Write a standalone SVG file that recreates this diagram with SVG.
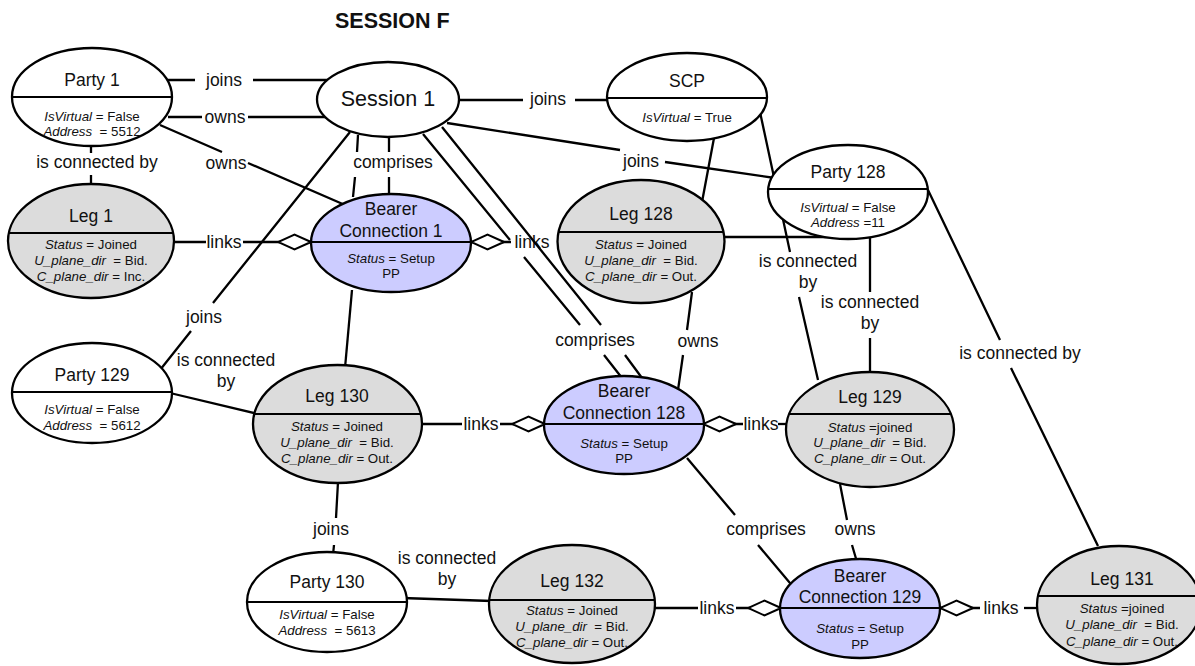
<svg xmlns="http://www.w3.org/2000/svg" width="1195" height="666" viewBox="0 0 1195 666">
<style>
  text{font-family:"Liberation Sans",Arial,Helvetica,sans-serif;fill:#111}
  .ln{fill:none;stroke:#000;stroke-width:2.3}
  .lnk{fill:none;stroke:#000;stroke-width:2.3;marker-end:url(#agg)}
  .shape{stroke:#000;stroke-width:2.3}
  .div{stroke:#000;stroke-width:2.1}
  .white{fill:#fff}
  .leg{fill:#dcdcdc}
  .bearer{fill:#ccccff}
  .lbl{font-size:17.5px;text-anchor:middle}
  .ttl{font-size:17.5px;text-anchor:middle}
  .big{font-size:21.5px;text-anchor:middle}
  .att{font-size:13.3px;text-anchor:middle}
  .i{font-style:italic}
  .head{font-size:21.5px;font-weight:bold}
</style>
<defs>
  <!-- open diamond used for the "links" aggregation ends -->
  <marker id="agg" markerUnits="userSpaceOnUse" viewBox="0 -9 34 18" refX="33.5" refY="0" markerWidth="34" markerHeight="18" orient="auto">
    <path d="M0.5,0 L17,-7.5 L33.5,0 L17,7.5 Z" fill="#fff" stroke="#000" stroke-width="2"/>
  </marker>
</defs>

<text class="head" x="335" y="28">SESSION F</text>

<g id="connectors">
  <g id="c-party1-session1-joins"><path class="ln" d="M168,80 H195 M253,80 H330"/><text class="lbl" x="224" y="86">joins</text></g>
  <g id="c-party1-session1-owns"><path class="ln" d="M168,117 H202 M248,117 H330"/><text class="lbl" x="225" y="123">owns</text></g>
  <g id="c-party1-bc1-owns"><path class="ln" d="M160,125 L222,152 M248,163 L345,205"/><text class="lbl" x="226" y="169">owns</text></g>
  <g id="c-party1-leg1"><path class="ln" d="M91,146 V153 M91,175 V186"/><text class="lbl" x="97" y="168">is connected by</text></g>
  <g id="c-leg1-bc1-links"><path class="lnk" d="M172,242 H206 M243,242 H311"/><text class="lbl" x="224" y="248">links</text></g>
  <g id="c-bc1-leg128-links"><path class="lnk" d="M511,242 H471"/><text class="lbl" x="532" y="248">links</text></g>
  <g id="c-session1-scp-joins"><path class="ln" d="M458,100 H523 M575,100 H610"/><text class="lbl" x="548" y="105">joins</text></g>
  <g id="c-session1-party128-joins"><path class="ln" d="M447,123 L620,150 M665,162 L775,178"/><text class="lbl" x="641" y="167">joins</text></g>
  <g id="c-scp-leg128"><path class="ln" d="M714,138 L702,202"/></g>
  <g id="c-scp-leg129"><path class="ln" d="M760,112 L790,252 M799,297 L818,380"/><text class="lbl" x="808" y="267">is connected</text><text class="lbl" x="808" y="288">by</text></g>
  <g id="c-party128-leg129"><path class="ln" d="M722,237 H870 V292 M870,338 V374"/><text class="lbl" x="870" y="308">is connected</text><text class="lbl" x="870" y="329">by</text></g>
  <g id="c-party128-leg131"><path class="ln" d="M928,190 L1000,340 M1011,368 L1098,546"/><text class="lbl" x="1020" y="359">is connected by</text></g>
  <g id="c-session1-bc1-comprises"><path class="ln" d="M358,135 L357,152 M355,177 L353,197 M389,137 V152 M389,177 V195"/><text class="lbl" x="393" y="168">comprises</text></g>
  <g id="c-session1-party129-joins"><path class="ln" d="M350,132 L213,303 M191,331 L160,370"/><text class="lbl" x="204" y="323">joins</text></g>
  <g id="c-session1-bc128-comprises"><path class="ln" d="M423,134 L510,240 M524,257 L580,325 M604,355 L622,378 M442,127 L601,325 M625,355 L642,378"/><text class="lbl" x="595" y="346">comprises</text></g>
  <g id="c-bc1-leg130"><path class="ln" d="M352,290 L345,368"/></g>
  <g id="c-party129-leg130"><path class="ln" d="M170,393 L258,414"/><text class="lbl" x="226" y="366">is connected</text><text class="lbl" x="226" y="387">by</text></g>
  <g id="c-leg130-bc128-links"><path class="lnk" d="M420,424 H462 M500,424 H545"/><text class="lbl" x="481" y="430">links</text></g>
  <g id="c-bc128-leg129-links"><path class="lnk" d="M743,424 H703"/><path class="ln" d="M778,424 H790"/><text class="lbl" x="761" y="430">links</text></g>
  <g id="c-leg128-bc128-owns"><path class="ln" d="M692,292 L687,330 M683,355 L678,390"/><text class="lbl" x="698" y="347">owns</text></g>
  <g id="c-leg130-party130-joins"><path class="ln" d="M338,482 L336,518 M334,545 L333,555"/><text class="lbl" x="331" y="535">joins</text></g>
  <g id="c-party130-leg132"><path class="ln" d="M402,598 L492,601"/><text class="lbl" x="447" y="564">is connected</text><text class="lbl" x="447" y="585">by</text></g>
  <g id="c-leg132-bc129-links"><path class="lnk" d="M655,608 H698 M736,608 H781"/><text class="lbl" x="717" y="614">links</text></g>
  <g id="c-bc129-leg131-links"><path class="lnk" d="M980,608 H940"/><path class="ln" d="M1024,608 H1040"/><text class="lbl" x="1001" y="614">links</text></g>
  <g id="c-bc128-bc129-comprises"><path class="ln" d="M687,458 L735,515 M758,545 L795,589"/><text class="lbl" x="766" y="535">comprises</text></g>
  <g id="c-leg129-bc129-owns"><path class="ln" d="M840,484 L847,520 M852,545 L857,562"/><text class="lbl" x="855" y="535">owns</text></g>
</g>

<g id="party-1">
  <ellipse class="shape white" cx="92" cy="97" rx="80" ry="49"/>
  <line class="div" x1="12" y1="97" x2="172" y2="97"/>
  <text class="ttl" x="92" y="86">Party 1</text>
  <text class="att" x="92" y="121"><tspan class="i">IsVirtual</tspan> = False</text>
  <text class="att" x="92" y="136"><tspan class="i">Address</tspan><tspan dx="3.7"> = 5512</tspan></text>
</g>

<g id="session-1">
  <ellipse class="shape white" cx="388" cy="99.5" rx="71" ry="37.5"/>
  <text class="big" x="388" y="106">Session 1</text>
</g>

<g id="scp">
  <ellipse class="shape white" cx="687" cy="97" rx="80" ry="44"/>
  <line class="div" x1="607" y1="98" x2="767" y2="98"/>
  <text class="ttl" x="687" y="87">SCP</text>
  <text class="att" x="687" y="122"><tspan class="i">IsVirtual</tspan> = True</text>
</g>

<g id="party-128">
  <ellipse class="shape white" cx="848" cy="192" rx="80" ry="47"/>
  <line class="div" x1="768" y1="189" x2="928" y2="189"/>
  <text class="ttl" x="848" y="178">Party 128</text>
  <text class="att" x="848" y="212"><tspan class="i">IsVirtual</tspan> = False</text>
  <text class="att" x="848" y="227"><tspan class="i">Address</tspan> =11</text>
</g>

<g id="leg-1">
  <ellipse class="shape leg" cx="91" cy="241" rx="83" ry="57"/>
  <line class="div" x1="8.8" y1="233" x2="173.2" y2="233"/>
  <text class="ttl" x="91" y="222">Leg 1</text>
  <text class="att" x="91" y="249"><tspan class="i">Status</tspan> = Joined</text>
  <text class="att" x="91" y="265"><tspan class="i">U_plane_dir</tspan><tspan dx="3.7"> = Bid.</tspan></text>
  <text class="att" x="91" y="281"><tspan class="i">C_plane_dir</tspan> = Inc.</text>
</g>

<g id="bearer-connection-1">
  <ellipse class="shape bearer" cx="391" cy="243" rx="80" ry="49"/>
  <line class="div" x1="311" y1="242" x2="471" y2="242"/>
  <text class="ttl" x="391" y="215">Bearer</text>
  <text class="ttl" x="391" y="237">Connection 1</text>
  <text class="att" x="391" y="263"><tspan class="i">Status</tspan> = Setup</text>
  <text class="att" x="391" y="278">PP</text>
</g>

<g id="leg-128">
  <ellipse class="shape leg" cx="641" cy="241.5" rx="83.5" ry="61.5"/>
  <line class="div" x1="558.5" y1="232" x2="723.5" y2="232"/>
  <text class="ttl" x="641" y="220">Leg 128</text>
  <text class="att" x="641" y="249"><tspan class="i">Status</tspan> = Joined</text>
  <text class="att" x="641" y="265"><tspan class="i">U_plane_dir</tspan><tspan dx="3.7"> = Bid.</tspan></text>
  <text class="att" x="641" y="281"><tspan class="i">C_plane_dir</tspan> = Out.</text>
</g>

<g id="party-129">
  <ellipse class="shape white" cx="92" cy="393" rx="80" ry="50"/>
  <line class="div" x1="12" y1="392" x2="172" y2="392"/>
  <text class="ttl" x="92" y="381">Party 129</text>
  <text class="att" x="92" y="414"><tspan class="i">IsVirtual</tspan> = False</text>
  <text class="att" x="92" y="430"><tspan class="i">Address</tspan><tspan dx="3.7"> = 5612</tspan></text>
</g>

<g id="leg-130">
  <ellipse class="shape leg" cx="337.5" cy="424" rx="84.5" ry="59"/>
  <line class="div" x1="254.2" y1="414" x2="420.8" y2="414"/>
  <text class="ttl" x="337" y="402">Leg 130</text>
  <text class="att" x="337" y="431"><tspan class="i">Status</tspan> = Joined</text>
  <text class="att" x="337" y="447"><tspan class="i">U_plane_dir</tspan><tspan dx="3.7"> = Bid.</tspan></text>
  <text class="att" x="337" y="463"><tspan class="i">C_plane_dir</tspan> = Out.</text>
</g>

<g id="bearer-connection-128">
  <ellipse class="shape bearer" cx="624" cy="425" rx="80" ry="49"/>
  <line class="div" x1="544" y1="424" x2="704" y2="424"/>
  <text class="ttl" x="624" y="397">Bearer</text>
  <text class="ttl" x="624" y="419">Connection 128</text>
  <text class="att" x="624" y="448"><tspan class="i">Status</tspan> = Setup</text>
  <text class="att" x="624" y="463">PP</text>
</g>

<g id="leg-129">
  <ellipse class="shape leg" cx="870" cy="429.5" rx="84" ry="57.5"/>
  <line class="div" x1="789" y1="414" x2="951" y2="414"/>
  <text class="ttl" x="870" y="403">Leg 129</text>
  <text class="att" x="870" y="432"><tspan class="i">Status</tspan> =joined</text>
  <text class="att" x="870" y="447"><tspan class="i">U_plane_dir</tspan><tspan dx="3.7"> = Bid.</tspan></text>
  <text class="att" x="870" y="463"><tspan class="i">C_plane_dir</tspan> = Out.</text>
</g>

<g id="party-130">
  <ellipse class="shape white" cx="327" cy="602" rx="80" ry="50"/>
  <line class="div" x1="247" y1="602" x2="407" y2="602"/>
  <text class="ttl" x="327" y="588">Party 130</text>
  <text class="att" x="327" y="619"><tspan class="i">IsVirtual</tspan> = False</text>
  <text class="att" x="327" y="635"><tspan class="i">Address</tspan><tspan dx="3.7"> = 5613</tspan></text>
</g>

<g id="leg-132">
  <ellipse class="shape leg" cx="572" cy="604" rx="83" ry="59"/>
  <line class="div" x1="489.2" y1="600" x2="654.8" y2="600"/>
  <text class="ttl" x="572" y="587">Leg 132</text>
  <text class="att" x="572" y="615"><tspan class="i">Status</tspan> = Joined</text>
  <text class="att" x="572" y="631"><tspan class="i">U_plane_dir</tspan><tspan dx="3.7"> = Bid.</tspan></text>
  <text class="att" x="572" y="647"><tspan class="i">C_plane_dir</tspan> = Out.</text>
</g>

<g id="bearer-connection-129">
  <ellipse class="shape bearer" cx="860" cy="608.5" rx="80" ry="49.5"/>
  <line class="div" x1="780" y1="608" x2="940" y2="608"/>
  <text class="ttl" x="860" y="582">Bearer</text>
  <text class="ttl" x="860" y="603">Connection 129</text>
  <text class="att" x="860" y="633"><tspan class="i">Status</tspan> = Setup</text>
  <text class="att" x="860" y="649">PP</text>
</g>

<g id="leg-131">
  <ellipse class="shape leg" cx="1119" cy="605" rx="82" ry="59"/>
  <line class="div" x1="1038" y1="596" x2="1200" y2="596"/>
  <text class="ttl" x="1122" y="585">Leg 131</text>
  <text class="att" x="1122" y="613"><tspan class="i">Status</tspan> =joined</text>
  <text class="att" x="1122" y="629"><tspan class="i">U_plane_dir</tspan><tspan dx="3.7"> = Bid.</tspan></text>
  <text class="att" x="1122" y="646"><tspan class="i">C_plane_dir</tspan> = Out.</text>
</g>
</svg>
